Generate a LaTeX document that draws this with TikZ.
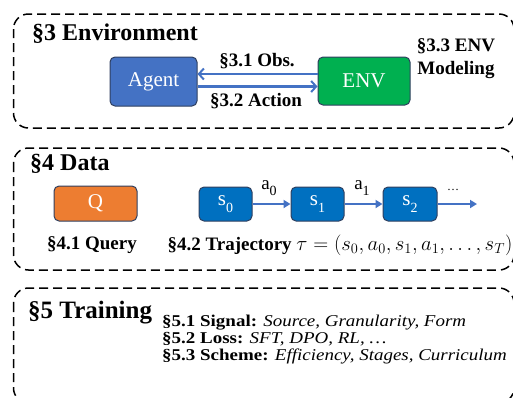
\documentclass[tikz,border=0pt]{standalone}
\usepackage{fontspec}
\usepackage{graphicx}
\setmainfont{Liberation Serif}
\usetikzlibrary{arrows.meta}
\definecolor{agentblue}{HTML}{4472C4}
\definecolor{edgeblue}{HTML}{2F3F5F}
\definecolor{envgreen}{HTML}{00B050}
\definecolor{qorange}{HTML}{ED7D31}
\definecolor{sblue}{HTML}{0070C0}
\definecolor{arrowblue}{HTML}{4472C4}
\newcommand{\mysub}[2]{#1\raisebox{-0.3em}{\fontsize{14}{14}\selectfont #2}}
\tikzset{
  section/.style={draw=black, dash pattern=on 9pt off 5pt, line width=1.5pt, rounded corners=15pt},
  boxnode/.style={draw=edgeblue, line width=1pt, rounded corners=5pt, text=white, inner sep=0pt,
    font=\fontsize{21}{21}\selectfont},
  titlenode/.style={anchor=base west, inner sep=0pt, font=\fontsize{24}{24}\selectfont\bfseries},
  lab/.style={inner sep=0pt, font=\fontsize{19}{23}\selectfont\bfseries},
  envarrow/.style={draw=arrowblue, line width=2.6pt, -{Straight Barb[length=5pt,width=11pt,line width=2pt]}},
  traj/.style={draw=arrowblue, line width=2pt, -{Triangle[length=7pt,width=8pt]}},
  trainline/.style={anchor=base west, inner sep=0pt, font=\fontsize{16.5}{17}\selectfont},
}
\begin{document}
\begin{tikzpicture}[x=1pt,y=-1pt]
\useasboundingbox (0,0) rectangle (513,397);
% sections
\draw[section] (13.5,14) rectangle (514,128);
\draw[section] (13.5,148) rectangle (514,270);
\draw[section] (13.5,288) rectangle (514,403);
% Environment
\node[titlenode] (t3) at (32,40) {§3 Environment};
\node[boxnode, fill=agentblue, minimum width=87pt, minimum height=49pt] (agent) at (153.5,81.5) {Agent};
\node[boxnode, fill=envgreen, minimum width=92pt, minimum height=48pt] (env) at (364,81) {ENV};
\draw[envarrow] ([yshift=7pt]env.west) -- ([yshift=7.5pt]agent.east);
\draw[envarrow] ([yshift=-5pt]agent.east) -- ([yshift=-5.5pt]env.west);
\node[lab] (obs) at (257,61) {§3.1 Obs.};
\node[lab] (act) at (256,101) {§3.2 Action};
\node[lab, align=center] (envm) at (456,58.5) {§3.3 ENV\\Modeling};
% Data
\node[titlenode] (t4) at (30,170) {§4 Data};
\node[boxnode, fill=qorange, minimum width=83pt, minimum height=35pt] (q) at (95.5,203.5) {Q};
\node[boxnode, fill=sblue, minimum width=53pt, minimum height=34pt] (s0) at (225.5,204) {\mysub{s}{0}};
\node[boxnode, fill=sblue, minimum width=53pt, minimum height=34pt] (s1) at (317.5,204) {\mysub{s}{1}};
\node[boxnode, fill=sblue, minimum width=54pt, minimum height=34pt] (s2) at (410,204) {\mysub{s}{2}};
\coordinate (send) at (477,204);
\draw[traj] (s0) -- (s1);
\draw[traj] (s1) -- (s2);
\draw[traj] (s2) -- (send);
\node[inner sep=0pt, font=\fontsize{19}{19}\selectfont] (a0) at (269,188) {\mysub{a}{0}};
\node[inner sep=0pt, font=\fontsize{19}{19}\selectfont] (a1) at (362,188) {\mysub{a}{1}};
\node[inner sep=0pt, font=\fontsize{12}{12}\selectfont] (dots) at (453,190) {…};
\node[lab] (qlab) at (92,245) {§4.1 Query};
\node[lab] (tlab) at (340,245) {§4.2 Trajectory {\fontsize{19.8}{23}\selectfont$\tau = (s_0, a_0, s_1, a_1, \ldots, s_T)$}};
% Training
\node[titlenode, font=\fontsize{25}{25}\selectfont\bfseries] (t5) at (28,318) {§5 Training};
\node[trainline] (l1) at (162,326) {\scalebox{1.15}[1]{\textbf{§5.1 Signal:} \textit{Source, Granularity, Form}}};
\node[trainline] (l2) at (162,343) {\scalebox{1.15}[1]{\textbf{§5.2 Loss:} \textit{SFT, DPO, RL, …}}};
\node[trainline] (l3) at (162,360) {\scalebox{1.15}[1]{\textbf{§5.3 Scheme:} \textit{Efficiency, Stages, Curriculum}}};
\end{tikzpicture}
\end{document}
